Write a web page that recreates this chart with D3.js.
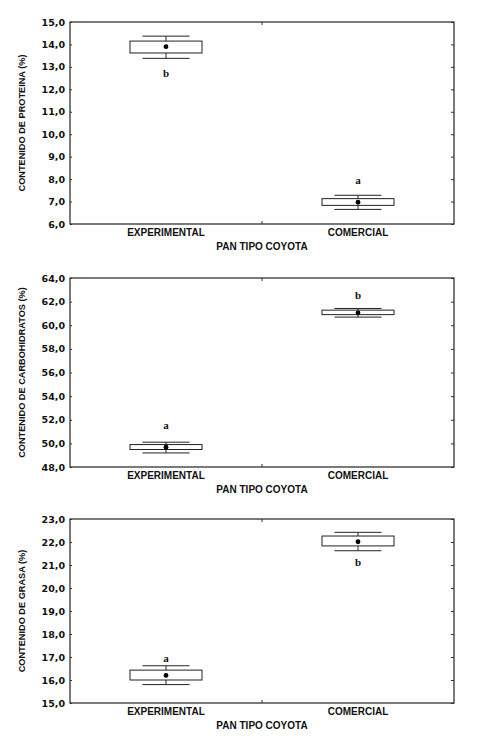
<!DOCTYPE html>
<html>
<head>
<meta charset="utf-8">
<script src="https://cdn.jsdelivr.net/npm/d3@7"></script>
<style>
  body { margin: 0; background: #fff; }
  text { font-family: "Liberation Sans", Arial, sans-serif; font-weight: bold; fill: #111; }
</style>
</head>
<body>
<svg id="chart" width="483" height="741"></svg>
<script>
const categories = ["EXPERIMENTAL", "COMERCIAL"];
const xTitle = "PAN TIPO COYOTA";

// proteina
const proteinMean = [13.9, 6.97];
const proteinBox = [[13.62, 14.15], [6.83, 7.13]];
const proteinWhisker = [[13.38, 14.37], [6.65, 7.28]];
const proteinLetters = ["b", "a"];
const proteinLetterAt = [12.65, 7.9];
const proteinTicks = [6, 7, 8, 9, 10, 11, 12, 13, 14, 15];

// carbohidratos
const carbMean = [49.67, 61.05];
const carbBox = [[49.48, 49.9], [60.9, 61.28]];
const carbWhisker = [[49.19, 50.1], [60.69, 61.42]];
const carbLetters = ["a", "b"];
const carbLetterAt = [51.4, 62.4];
const carbTicks = [48, 50, 52, 54, 56, 58, 60, 62, 64];

// grasa
const fatMean = [16.2, 22.01];
const fatBox = [[16.0, 16.43], [21.83, 22.26]];
const fatWhisker = [[15.8, 16.62], [21.62, 22.42]];
const fatLetters = ["a", "b"];
const fatLetterAt = [16.9, 21.06];
const fatTicks = [15, 16, 17, 18, 19, 20, 21, 22, 23];

let svg = d3.select("#chart");
let left = 70, right = 454;
let fmt = d => d.toFixed(1).replace(".", ",");

function drawPanel(top, bottom, yTitle, mean, box, whisker, letters, letterAt, ticks) {
  let g = svg.append("g");
  let x = d3.scaleBand().domain(categories).range([left, right]);
  let y = d3.scaleLinear().domain(d3.extent(ticks)).range([bottom, top]);
  let bw = x.bandwidth();

  // frame
  g.append("rect")
    .attr("x", left).attr("y", top)
    .attr("width", right - left).attr("height", bottom - top)
    .style("fill", "none").style("stroke", "#222").style("stroke-width", 1.2);

  // left axis
  let ya = g.append("g")
    .attr("transform", "translate(" + left + ",0)")
    .call(d3.axisLeft(y).tickValues(ticks).tickFormat(fmt).tickSize(-2).tickPadding(5));
  ya.select(".domain").remove();
  ya.selectAll("text")
    .style("font-size", "9.5px")
    .style("font-family", "DejaVu Sans, sans-serif")
    .style("font-weight", "bold")
    .attr("fill", "#111");
  ya.selectAll("line").style("stroke", "#333");

  // right ticks
  let yr = g.append("g")
    .attr("transform", "translate(" + right + ",0)")
    .call(d3.axisRight(y).tickValues(ticks).tickFormat("").tickSize(-3));
  yr.select(".domain").remove();
  yr.selectAll("line").style("stroke", "#333");

  // category divider ticks top/bottom
  let mid = x(categories[1]);
  g.append("line").attr("x1", mid).attr("x2", mid).attr("y1", top).attr("y2", top + 3).style("stroke", "#333");
  g.append("line").attr("x1", mid).attr("x2", mid).attr("y1", bottom).attr("y2", bottom - 3).style("stroke", "#333");

  // x labels
  categories.forEach((c, i) => {
    g.append("text")
      .attr("x", x(c) + bw / 2)
      .attr("y", bottom + 9)
      .attr("text-anchor", "middle")
      .attr("dominant-baseline", "middle")
      .style("font-size", "10px")
      .text(c);
  });
  g.append("text")
    .attr("x", (left + right) / 2)
    .attr("y", bottom + 23)
    .attr("text-anchor", "middle")
    .attr("dominant-baseline", "middle")
    .style("font-size", "10px")
    .text(xTitle);

  // y title
  g.append("text")
    .attr("transform", "translate(23," + (top + bottom) / 2 + ") rotate(-90)")
    .attr("text-anchor", "middle")
    .attr("dominant-baseline", "middle")
    .style("font-size", "9.2px")
    .text(yTitle);

  categories.forEach((c, i) => {
    let cx = x(c) + bw / 2;
    let boxW = bw * 0.375;
    let capW = bw * 0.245;
    // whisker stem
    g.append("line")
      .attr("x1", cx).attr("x2", cx)
      .attr("y1", y(whisker[i][0])).attr("y2", y(whisker[i][1]))
      .style("stroke", "#222");
    whisker[i].forEach(v => {
      g.append("line")
        .attr("x1", cx - capW / 2).attr("x2", cx + capW / 2)
        .attr("y1", y(v)).attr("y2", y(v))
        .style("stroke", "#222");
    });
    g.append("rect")
      .attr("x", cx - boxW / 2)
      .attr("y", y(box[i][1]))
      .attr("width", boxW)
      .attr("height", y(box[i][0]) - y(box[i][1]))
      .style("fill", "#fff").style("stroke", "#222");
    g.append("circle")
      .attr("cx", cx).attr("cy", y(mean[i])).attr("r", 2.4)
      .style("fill", "#000");
    g.append("text")
      .attr("x", cx)
      .attr("y", y(letterAt[i]))
      .attr("text-anchor", "middle")
      .attr("dominant-baseline", "middle")
      .style("font-family", "Liberation Serif, Times New Roman, serif")
      .style("font-size", "11px")
      .text(letters[i]);
  });
}

drawPanel(22, 224, "CONTENIDO DE PROTEINA (%)", proteinMean, proteinBox, proteinWhisker, proteinLetters, proteinLetterAt, proteinTicks);
drawPanel(278, 467, "CONTENIDO DE CARBOHIDRATOS (%)", carbMean, carbBox, carbWhisker, carbLetters, carbLetterAt, carbTicks);
drawPanel(519, 703, "CONTENIDO DE GRASA (%)", fatMean, fatBox, fatWhisker, fatLetters, fatLetterAt, fatTicks);
</script>
</body>
</html>
